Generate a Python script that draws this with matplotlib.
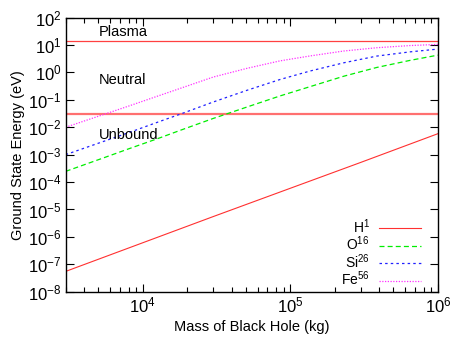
import matplotlib
matplotlib.use("Agg")
import matplotlib.pyplot as plt
import numpy as np

# values (mass in kg, energy in eV)
mass = [3000, 5600, 8000, 13000, 18000, 30000, 51000, 85000,
        136000, 230000, 385000, 650000, 1000000]
log_e_o16 = [-3.61, -3.09, -2.79, -2.39, -2.11, -1.68, -1.26, -0.86,
             -0.52, -0.14, 0.18, 0.44, 0.63]
log_e_si26 = [-3.0, -2.49, -2.20, -1.79, -1.52, -1.08, -0.65, -0.26,
              0.05, 0.35, 0.595, 0.75, 0.85]
log_e_fe56 = [-2.0, -1.51, -1.23, -0.84, -0.58, -0.17, 0.15, 0.42,
              0.60, 0.78, 0.90, 0.98, 1.02]

mass_h = [3000, 30000, 300000, 1000000]
e_h1 = [5.5e-8, 5.5e-6, 5.2e-4, 5.8e-3]

plasma_level = 13.6
unbound_level = 0.03

plt.rcParams["font.family"] = ["Liberation Sans", "DejaVu Sans"]
plt.rcParams["font.size"] = 10.5
plt.rcParams["mathtext.fontset"] = "custom"
plt.rcParams["mathtext.rm"] = "Liberation Sans"

fig = plt.figure(figsize=(4.5, 3.38), dpi=100)
ax = fig.add_axes([0.146, 0.137, 0.827, 0.811])

ax.axhline(plasma_level, color="#ff4040", lw=0.9)
ax.axhline(unbound_level, color="#ff7070", lw=1.6)

ax.plot(mass_h, e_h1, color="#ff3030", lw=0.8, label=r"H$^1$")
ax.plot(mass, 10 ** np.array(log_e_o16), color="#00ee00", lw=0.9,
        dashes=(4, 2.5), label=r"O$^{16}$")
ax.plot(mass, 10 ** np.array(log_e_si26), color="#2020ff", lw=0.9,
        dashes=(2, 2.5), label=r"Si$^{26}$")
ax.plot(mass, 10 ** np.array(log_e_fe56), color="#ff30ff", lw=0.9,
        dashes=(1, 1.2), label=r"Fe$^{56}$")

ax.set_xscale("log")
ax.set_yscale("log")
ax.set_xlim(3000, 1e6)
ax.set_ylim(1e-8, 1e2)
ax.yaxis.set_major_locator(matplotlib.ticker.LogLocator(base=10, numticks=20))
ax.yaxis.set_minor_locator(matplotlib.ticker.NullLocator())

ax.tick_params(which="both", direction="in", top=True, right=True)
ax.tick_params(which="major", length=6, width=0.8, labelsize=12, pad=3)
ax.tick_params(which="minor", length=3.5, width=0.8)
for s in ax.spines.values():
    s.set_linewidth(1.0)

ax.text(5000, 30, "Plasma", va="center")
ax.text(5000, 0.52, "Neutral", va="center")
ax.text(5000, 5.2e-3, "Unbound", va="center")

ax.set_xlabel("Mass of Black Hole (kg)", labelpad=3)
ax.set_ylabel("Ground State Energy (eV)", labelpad=2)

ax.legend(loc="lower right", bbox_to_anchor=(0.955, 0.012), frameon=False,
          fontsize=10, markerfirst=False, handlelength=3.0,
          labelspacing=-0.08, handletextpad=0.7, borderpad=0.0,
          borderaxespad=0.0)

fig.savefig("out.png", dpi=100)
